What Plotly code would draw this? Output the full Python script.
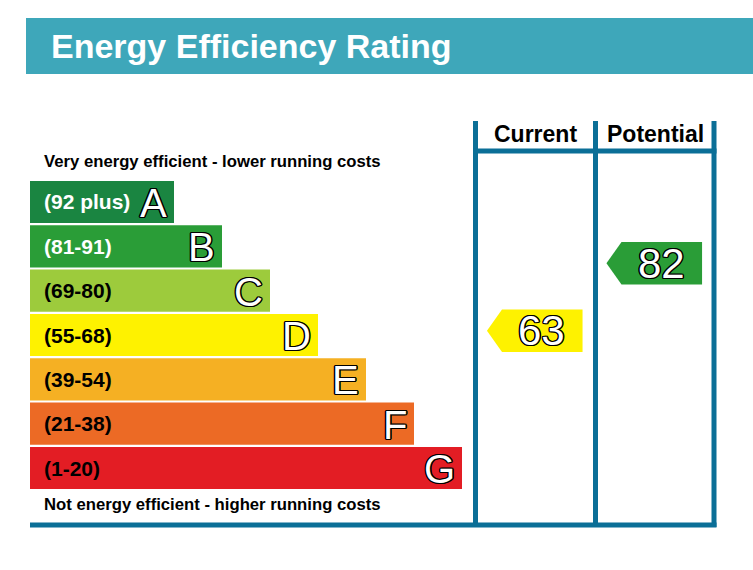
import plotly.graph_objects as go

# Daten
bands = ["A", "B", "C", "D", "E", "F", "G"]
band_ranges = ["(92 plus)", "(81-91)", "(69-80)", "(55-68)", "(39-54)", "(21-38)", "(1-20)"]
band_lower = [92, 81, 69, 55, 39, 21, 1]
bar_lengths = [3, 4, 5, 6, 7, 8, 9]
band_colors = ["#1a8541", "#2a9d37", "#9dcb3c", "#fef200", "#f5b023", "#ec6a25", "#e31d24"]
label_colors = ["white", "white", "black", "black", "black", "black", "black"]

columns = ["Current", "Potential"]
scores = [63, 82]

W, H = 753, 570
FONT = "Liberation Sans, Arial, sans-serif"
LINE = "#0b6f97"
OUTLINE = ("-1px -1px 0 #000, 1px -1px 0 #000, -1px 1px 0 #000, 1px 1px 0 #000, "
           "0 -1.4px 0 #000, 0 1.4px 0 #000, -1.4px 0 0 #000, 1.4px 0 0 #000")


def px(x):
    return x / W


def py(y):
    return 1 - y / H


def band_of(score):
    for i, lo in enumerate(band_lower):
        if score >= lo:
            return i
    return len(bands) - 1


fig = go.Figure()

# Balken A-G
fig.add_trace(go.Bar(
    x=bar_lengths, y=bands, orientation="h",
    marker=dict(color=band_colors, line=dict(width=0)),
    hoverinfo="skip", showlegend=False
))

annotations = []
for b, r, L, c in zip(bands, band_ranges, bar_lengths, label_colors):
    annotations.append(dict(
        x=0, y=b, xref="x", yref="y", text=r, showarrow=False,
        xanchor="left", xshift=12,
        font=dict(family=FONT, size=21, color=c, weight="bold")
    ))
    annotations.append(dict(
        x=L, y=b, xref="x", yref="y", text=b, showarrow=False,
        xanchor="right", xshift=-5, yshift=-1,
        font=dict(family=FONT, size=40, color="white", shadow=OUTLINE)
    ))

# Pfeile fuer Current / Potential
for k, s in enumerate(scores):
    col = band_colors[band_of(s)]
    fig.add_trace(go.Scatter(
        x=[k + 0.1, k + 0.226, k + 0.9, k + 0.9, k + 0.226, k + 0.1],
        y=[s, s + 6, s + 6, s - 6, s - 6, s],
        xaxis="x2", yaxis="y2", mode="lines", fill="toself",
        fillcolor=col, line=dict(width=0, color=col),
        hoverinfo="skip", showlegend=False
    ))
    annotations.append(dict(
        x=k + 0.56, y=s, xref="x2", yref="y2", text=str(s), showarrow=False,
        font=dict(family=FONT, size=42, color="white", shadow=OUTLINE)
    ))

# Ueberschriften
annotations.append(dict(
    x=px(49), y=py(46), xref="paper", yref="paper", text="Energy Efficiency Rating",
    showarrow=False, xanchor="left", yanchor="middle",
    font=dict(family=FONT, size=34, color="white", weight="bold")
))
for name, cx in zip(columns, [535, 655]):
    annotations.append(dict(
        x=px(cx), y=py(134), xref="paper", yref="paper", text=name,
        showarrow=False, xanchor="center", yanchor="middle",
        font=dict(family=FONT, size=23, color="black", weight="bold")
    ))
annotations.append(dict(
    x=px(42), y=py(161), xref="paper", yref="paper",
    text="Very energy efficient - lower running costs",
    showarrow=False, xanchor="left", yanchor="middle",
    font=dict(family=FONT, size=16.7, color="black", weight="bold")
))
annotations.append(dict(
    x=px(42), y=py(504), xref="paper", yref="paper",
    text="Not energy efficient - higher running costs",
    showarrow=False, xanchor="left", yanchor="middle",
    font=dict(family=FONT, size=16.7, color="black", weight="bold")
))

shapes = [
    dict(type="rect", xref="paper", yref="paper", x0=px(26), x1=px(753),
         y0=py(74), y1=py(18), fillcolor="#3ea7ba", line=dict(width=0), layer="below"),
]
for xv in [475.5, 595.5, 714]:
    shapes.append(dict(type="line", xref="paper", yref="paper",
                       x0=px(xv), x1=px(xv), y0=py(121), y1=py(527),
                       line=dict(color=LINE, width=5)))
shapes.append(dict(type="line", xref="paper", yref="paper",
                   x0=px(473), x1=px(716.5), y0=py(151), y1=py(151),
                   line=dict(color=LINE, width=5)))
shapes.append(dict(type="line", xref="paper", yref="paper",
                   x0=px(30), x1=px(716.5), y0=py(525), y1=py(525),
                   line=dict(color=LINE, width=5)))

ydom = [py(490.2), py(179.8)]
hidden = dict(showgrid=False, zeroline=False, showticklabels=False, ticks="", fixedrange=True)

fig.update_layout(
    width=W, height=H,
    margin=dict(l=0, r=0, t=0, b=0),
    paper_bgcolor="white", plot_bgcolor="rgba(0,0,0,0)",
    bargap=0.05,
    xaxis=dict(domain=[px(30), px(462)], range=[0, 9], **hidden),
    yaxis=dict(domain=ydom, range=[6.5, -0.5], type="category", **hidden),
    xaxis2=dict(domain=[px(475), px(714)], range=[0, 2], anchor="y2", **hidden),
    yaxis2=dict(domain=ydom, range=[18.1, 105.5], anchor="x2", **hidden),
    shapes=shapes,
    annotations=annotations,
)

# Seitenrand entfernen, damit die Grafik bei (0,0) beginnt
fig.write_html("out.html", config={"displayModeBar": False},
               post_script="document.body.style.margin='0';")
